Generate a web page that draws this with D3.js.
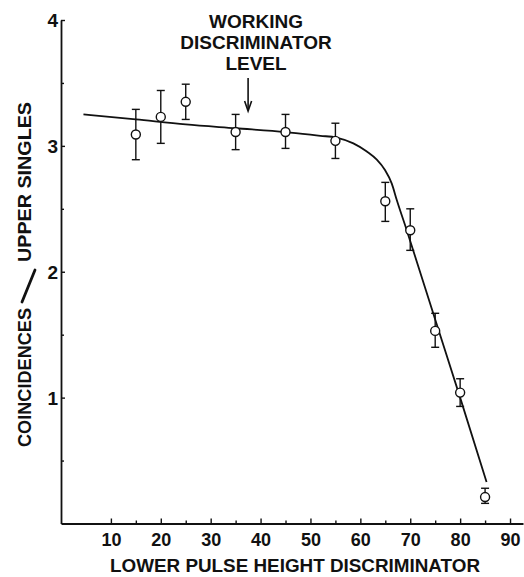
<!DOCTYPE html>
<html>
<head>
<meta charset="utf-8">
<script src="https://cdn.jsdelivr.net/npm/d3@7"></script>
<style>
  body { margin: 0; background: #fff; }
  svg { display: block; }
  text { font-family: "Liberation Sans", Arial, sans-serif; font-weight: bold; fill: #111; }
</style>
</head>
<body>
<div id="chart"></div>
<script>
// measured points with error bars
var discLevel = [15, 20, 25, 35, 45, 55, 65, 70, 75, 80, 85]
var ratio     = [3.09, 3.23, 3.35, 3.11, 3.11, 3.04, 2.56, 2.33, 1.53, 1.04, 0.21]
var errHigh   = [3.29, 3.44, 3.49, 3.25, 3.25, 3.18, 2.71, 2.50, 1.67, 1.15, 0.28]
var errLow    = [2.89, 3.02, 3.21, 2.97, 2.98, 2.90, 2.40, 2.17, 1.40, 0.93, 0.16]

// hand drawn fit curve
var fitX = [4.5, 15, 25, 35, 45, 52, 55.2, 58.6, 61.3, 63.3, 64.9, 66.3, 67.3, 69.3, 75, 80, 85.3]
var fitY = [3.25, 3.21, 3.17, 3.14, 3.11, 3.08, 3.066, 3.02, 2.955, 2.89, 2.81, 2.70, 2.57, 2.33, 1.62, 1.00, 0.33]

var xMajor = [10, 20, 30, 40, 50, 60, 70, 80, 90]
var xMinor = [15, 25, 35, 45, 55, 65, 75, 85]
var yMajor = [1, 2, 3, 4]
var yMinor = [0.5, 1.5, 2.5, 3.5]

var annotation = ["WORKING", "DISCRIMINATOR", "LEVEL"]
var xTitle = "LOWER PULSE HEIGHT DISCRIMINATOR"
var yTitleA = "COINCIDENCES", yTitleB = "UPPER  SINGLES"
var arrowAt = 37.5

var width = 524, height = 577

var svg = d3.select("#chart").append("svg")
    .attr("width", width)
    .attr("height", height)

var x = d3.scaleLinear().domain([0, 92.6]).range([61, 523])
var y = d3.scaleLinear().domain([0, 4]).range([523.5, 20])

// x axis
var xAxis = svg.append("g")
    .attr("transform", "translate(0," + y(0) + ")")
xAxis.call(d3.axisBottom(x).tickValues(xMajor).tickSizeInner(-5).tickSizeOuter(0).tickPadding(10))
xAxis.append("g").call(d3.axisBottom(x).tickValues(xMinor).tickSize(-3).tickFormat(""))
    .select(".domain").remove()

// y axis
var yAxis = svg.append("g")
    .attr("transform", "translate(" + x(0) + ",0)")
yAxis.call(d3.axisLeft(y).tickValues(yMajor).tickFormat(d3.format("d")).tickSizeInner(-4).tickSizeOuter(0))
yAxis.append("g").call(d3.axisLeft(y).tickValues(yMinor).tickSize(-3).tickFormat(""))
    .select(".domain").remove()

svg.selectAll(".domain").attr("stroke", "#111").attr("stroke-width", 1.8)
svg.selectAll(".tick line").attr("stroke", "#111").attr("stroke-width", 1.4)
xAxis.selectAll(".tick text").style("font-size", "18px").attr("fill", "#111")
yAxis.selectAll(".tick text").style("font-size", "19px").attr("fill", "#111")
    .attr("x", -3).attr("dy", "0.36em")

// fit curve
var line = d3.line()
    .x(function (d, i) { return x(fitX[i]) })
    .y(function (d, i) { return y(d) })
    .curve(d3.curveMonotoneX)

svg.append("path")
    .datum(fitY)
    .attr("d", line)
    .attr("fill", "none")
    .attr("stroke", "#111")
    .attr("stroke-width", 1.8)

// error bars
var bars = svg.append("g").attr("stroke", "#111").attr("stroke-width", 1.4)
discLevel.forEach(function (d, i) {
    var cx = x(d)
    bars.append("line").attr("x1", cx).attr("x2", cx).attr("y1", y(errHigh[i])).attr("y2", y(errLow[i]))
    bars.append("line").attr("x1", cx - 4).attr("x2", cx + 4).attr("y1", y(errHigh[i])).attr("y2", y(errHigh[i]))
    bars.append("line").attr("x1", cx - 4).attr("x2", cx + 4).attr("y1", y(errLow[i])).attr("y2", y(errLow[i]))
})

svg.append("g").selectAll("circle")
    .data(ratio)
    .enter()
    .append("circle")
    .attr("cx", function (d, i) { return x(discLevel[i]) })
    .attr("cy", function (d) { return y(d) })
    .attr("r", 4.5)
    .attr("fill", "#fff")
    .attr("stroke", "#111")
    .attr("stroke-width", 1.4)

// annotation
var ann = svg.append("g")
annotation.forEach(function (t, i) {
    ann.append("text")
        .attr("x", 256)
        .attr("y", 28 + i * 21)
        .attr("text-anchor", "middle")
        .style("font-size", "19px")
        .text(t)
})
var ax = x(arrowAt)
ann.append("line").attr("x1", ax).attr("x2", ax).attr("y1", 78).attr("y2", 109)
    .attr("stroke", "#111").attr("stroke-width", 1.6)
ann.append("path")
    .attr("d", "M" + (ax - 3.5) + ",101 L" + ax + ",111 L" + (ax + 3.5) + ",101")
    .attr("fill", "none").attr("stroke", "#111").attr("stroke-width", 1.6)

// axis titles
svg.append("text")
    .attr("x", 295)
    .attr("y", 572)
    .attr("text-anchor", "middle")
    .attr("textLength", 370)
    .attr("lengthAdjust", "spacingAndGlyphs")
    .style("font-size", "19px")
    .text(xTitle)

var yt = svg.append("g").attr("transform", "translate(31,0) rotate(-90)")
yt.append("text")
    .attr("x", -447).attr("y", 0)
    .attr("textLength", 139)
    .attr("lengthAdjust", "spacingAndGlyphs")
    .style("font-size", "19px")
    .text(yTitleA)
yt.append("text")
    .attr("x", -262).attr("y", 0)
    .attr("textLength", 160)
    .attr("lengthAdjust", "spacingAndGlyphs")
    .style("font-size", "19px")
    .text(yTitleB)

// the big slash between the two halves of the y title
svg.append("line")
    .attr("x1", 35).attr("y1", 270)
    .attr("x2", 22).attr("y2", 302)
    .attr("stroke", "#111")
    .attr("stroke-width", 2.8)
    .attr("stroke-linecap", "round")
</script>
</body>
</html>
